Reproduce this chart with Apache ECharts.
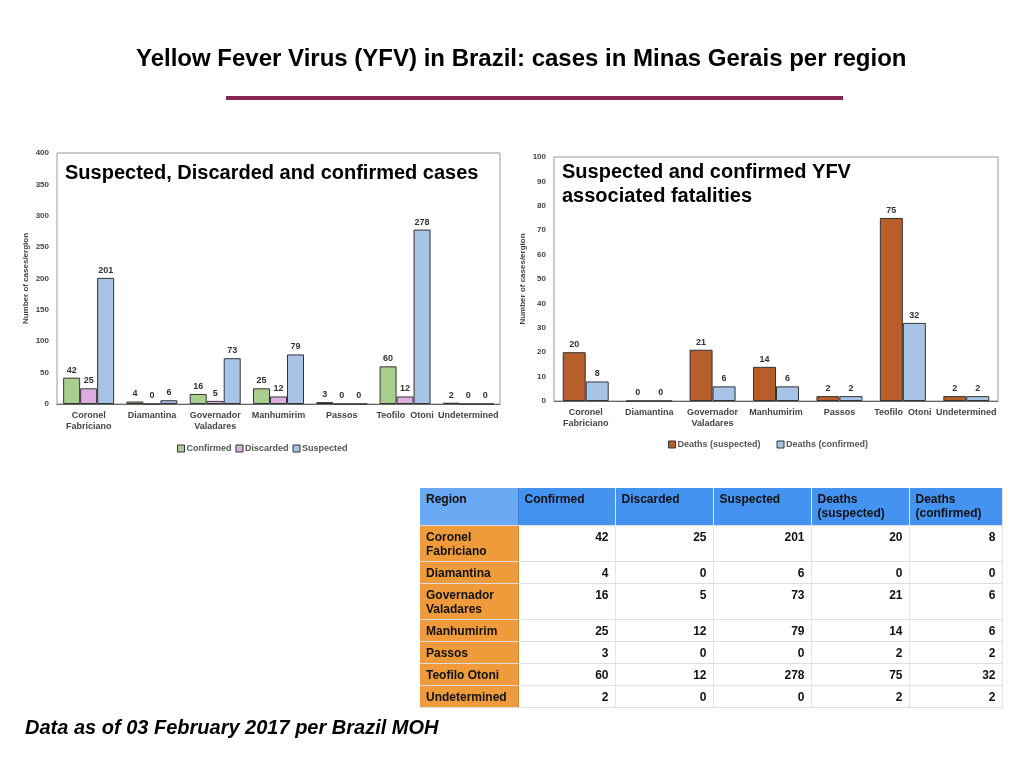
<!DOCTYPE html>
<html>
<head>
<meta charset="utf-8">
<script src="https://cdn.jsdelivr.net/npm/echarts@6/dist/echarts.min.js"></script>
<style>
  html, body { margin: 0; padding: 0; background: #fff; }
  #page { position: relative; width: 1024px; height: 768px; }
  #main { position: absolute; left: 0; top: 0; width: 1024px; height: 768px; }
  #tbl { position: absolute; left: 420px; top: 488px; width: 582px; table-layout: fixed; border-collapse: collapse;
         font-family: "Liberation Sans", Arial, sans-serif; font-size: 12px; font-weight: bold; color: #111; }
  #tbl td, #tbl th { border-bottom: 1px solid #ddd; border-right: 1px solid #e4e4e4; vertical-align: top;
         padding: 4px 6px 0 6px; line-height: 14px; box-sizing: border-box; overflow: hidden; }
  #tbl th { background: #4593f1; text-align: left; height: 37px; }
  #tbl th.first { background: #6aa9f3; border-right: 1px solid #3f7fd0; }
  #tbl td { text-align: right; }
  #tbl td.reg { background: #f09b3b; text-align: left; border-right: 1px solid #d08530; }
</style>
</head>
<body>
<div id="page">
  <div id="main"></div>
  <table id="tbl"></table>
</div>
<script>
// 数据
var regions = ['Coronel\nFabriciano', 'Diamantina', 'Governador\nValadares', 'Manhumirim', 'Passos', 'Teofilo  Otoni', 'Undetermined'];
var tableRegions = ['Coronel Fabriciano', 'Diamantina', 'Governador Valadares', 'Manhumirim', 'Passos', 'Teofilo Otoni', 'Undetermined'];
var confirmed = [42, 4, 16, 25, 3, 60, 2];
var discarded = [25, 0, 5, 12, 0, 12, 0];
var suspected = [201, 6, 73, 79, 0, 278, 0];
var deathsSuspected = [20, 0, 21, 14, 2, 75, 2];
var deathsConfirmed = [8, 0, 6, 6, 2, 32, 2];
var tableHeaders = ['Region', 'Confirmed', 'Discarded', 'Suspected', 'Deaths\n(suspected)', 'Deaths\n(confirmed)'];

var FONT = '"Liberation Sans", Arial, sans-serif';
var axisText = { fontSize: 8, color: '#444', fontWeight: 'bold', fontFamily: FONT };

function barLabel() {
  return { show: true, position: 'top', distance: 3, fontSize: 9, fontWeight: 'bold', color: '#333', fontFamily: FONT };
}
function barSeries(name, data, color, idx, width) {
  return {
    name: name, type: 'bar', data: data,
    xAxisIndex: idx, yAxisIndex: idx,
    barWidth: width, barGap: '0%',
    itemStyle: { color: color, borderColor: '#333', borderWidth: 1 },
    label: barLabel()
  };
}
function catAxis(idx) {
  return {
    type: 'category', gridIndex: idx, data: regions,
    axisTick: { show: false },
    axisLine: { lineStyle: { color: '#666' } },
    axisLabel: { interval: 0, fontSize: 9, color: '#444', fontWeight: 'bold', fontFamily: FONT, lineHeight: 11, margin: 6 }
  };
}
function valAxis(idx, max, interval) {
  return {
    type: 'value', gridIndex: idx, min: 0, max: max, interval: interval,
    name: 'Number of cases/ergion', nameLocation: 'middle', nameGap: 27,
    nameTextStyle: { fontSize: 8, color: '#444', fontWeight: 'bold', fontFamily: FONT },
    axisLine: { show: false }, axisTick: { show: false },
    splitLine: { show: false },
    axisLabel: axisText
  };
}

var myChart = echarts.init(document.getElementById('main'));
var option = {
  backgroundColor: '#fff',
  animation: false,
  textStyle: { fontFamily: FONT },
  title: [
    {
      text: 'Yellow Fever Virus (YFV) in Brazil: cases in Minas Gerais per region',
      left: 136, top: 47, padding: 0,
      textStyle: { fontSize: 24, fontWeight: 'bold', color: '#000', fontFamily: '"Liberation Sans Narrow", "Liberation Sans", Arial, sans-serif' }
    },
    {
      text: 'Suspected, Discarded and confirmed cases',
      left: 65, top: 163, padding: 0,
      textStyle: { fontSize: 20, fontWeight: 'bold', color: '#000', fontFamily: FONT }
    },
    {
      text: 'Suspected and confirmed YFV\nassociated fatalities',
      left: 562, top: 160, padding: 0,
      textStyle: { fontSize: 20, fontWeight: 'bold', color: '#000', fontFamily: FONT, lineHeight: 24 }
    },
    {
      text: 'Data as of 03 February 2017 per Brazil MOH',
      left: 25, top: 718, padding: 0,
      textStyle: { fontSize: 20, fontWeight: 'bold', fontStyle: 'italic', color: '#000', fontFamily: FONT }
    }
  ],
  graphic: [
    { type: 'line', shape: { x1: 226, y1: 98, x2: 843, y2: 98 }, style: { stroke: '#8a2553', lineWidth: 4 } }
  ],
  legend: [
    {
      data: ['Confirmed', 'Discarded', 'Suspected'],
      left: 172, top: 439, itemWidth: 7, itemHeight: 7, itemGap: 4, icon: 'rect',
      itemStyle: { borderColor: '#333', borderWidth: 1 },
      textStyle: { fontSize: 9, color: '#555', fontWeight: 'bold', padding: [0, 0, 0, -3] }
    },
    {
      data: ['Deaths (suspected)', 'Deaths (confirmed)'],
      left: 663, top: 435, itemWidth: 7, itemHeight: 7, itemGap: 16, icon: 'rect',
      itemStyle: { borderColor: '#333', borderWidth: 1 },
      textStyle: { fontSize: 9, color: '#555', fontWeight: 'bold', padding: [0, 0, 0, -3] }
    }
  ],
  grid: [
    { left: 57, top: 153, width: 443, height: 251, show: true, borderColor: '#999', borderWidth: 1 },
    { left: 554, top: 157, width: 444, height: 244, show: true, borderColor: '#999', borderWidth: 1 }
  ],
  xAxis: [catAxis(0), catAxis(1)],
  yAxis: [valAxis(0, 400, 50), valAxis(1, 100, 10)],
  series: [
    barSeries('Confirmed', confirmed, '#a9cf8e', 0, 17),
    barSeries('Discarded', discarded, '#dcaee2', 0, 17),
    barSeries('Suspected', suspected, '#a7c3e5', 0, 17),
    barSeries('Deaths (suspected)', deathsSuspected, '#b65f2b', 1, 23),
    barSeries('Deaths (confirmed)', deathsConfirmed, '#a7c3e5', 1, 23)
  ]
};
myChart.setOption(option);

// 表格
var colWidths = [98, 97, 98, 98, 98, 93];
var tbl = document.getElementById('tbl');
var html = '<colgroup>';
for (var c = 0; c < colWidths.length; c++) {
  html += '<col style="width:' + colWidths[c] + 'px">';
}
html += '</colgroup><tr>';
for (var h = 0; h < tableHeaders.length; h++) {
  html += '<th' + (h == 0 ? ' class="first"' : '') + '>' + tableHeaders[h].replace('\n', '<br>') + '</th>';
}
html += '</tr>';
for (var i = 0; i < tableRegions.length; i++) {
  var two = tableRegions[i].indexOf(' ') > 0 && tableRegions[i] != 'Teofilo Otoni';
  var name = two ? tableRegions[i].replace(' ', '<br>') : tableRegions[i];
  var rh = two ? 36 : 22;
  html += '<tr><td class="reg" style="height:' + rh + 'px">' + name + '</td>' +
    '<td>' + confirmed[i] + '</td><td>' + discarded[i] + '</td><td>' + suspected[i] + '</td>' +
    '<td>' + deathsSuspected[i] + '</td><td>' + deathsConfirmed[i] + '</td></tr>';
}
tbl.innerHTML = html;
</script>
</body>
</html>
